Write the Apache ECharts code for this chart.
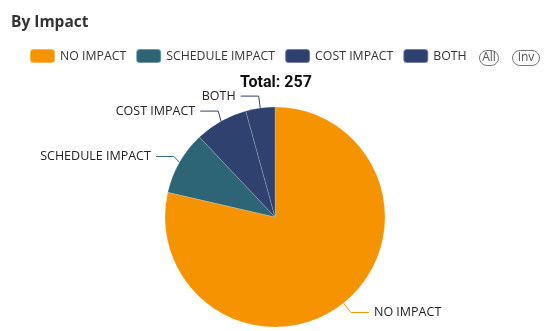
<!DOCTYPE html>
<html>
<head>
<meta charset="utf-8">
<script src="https://cdn.jsdelivr.net/npm/echarts@6/dist/echarts.min.js"></script>
<style>
  html, body { margin: 0; padding: 0; background: #ffffff; }
  #chart { width: 546px; height: 331px; }
</style>
</head>
<body>
<div id="chart"></div>
<script>
// Impact categories and their counts
const categories = ['NO IMPACT', 'SCHEDULE IMPACT', 'COST IMPACT', 'BOTH'];
const counts = [202, 24, 20, 11];
const colors = ['#F59300', '#2D6577', '#2F416E', '#2F416E'];

const total = counts.reduce((a, b) => a + b, 0);
const font = '"Open Sans", "Noto Sans", sans-serif';

const chart = echarts.init(document.getElementById('chart'), null, { renderer: 'canvas' });

chart.setOption({
  animation: false,
  color: colors,
  title: [
    {
      text: 'By Impact',
      left: 6, top: 10,
      textStyle: { fontFamily: font, fontSize: 15.5, fontWeight: 'bold', color: '#333333' }
    },
    {
      text: 'Total: ' + total,
      left: 235, top: 70,
      textStyle: { fontFamily: 'Roboto, sans-serif', fontSize: 16, fontWeight: 'bold', color: '#111111' }
    }
  ],
  legend: {
    data: categories,
    left: 24, top: 43,
    itemWidth: 25, itemHeight: 14,
    itemGap: 9,
    icon: 'roundRect',
    textStyle: { fontFamily: font, fontSize: 12.3, color: '#333333' }
  },
  // "All" / "Inv" toggle pills beside the legend
  graphic: [
    {
      type: 'group', left: 479, top: 50,
      children: [
        { type: 'rect', shape: { x: 0, y: 0, width: 19, height: 15, r: 7.5 },
          style: { fill: '#fff', stroke: '#777', lineWidth: 1 } },
        { type: 'text', x: 9.5, y: 7.5,
          style: { text: 'All', fill: '#555', font: '12px ' + font, align: 'center', verticalAlign: 'middle' } },
        { type: 'rect', shape: { x: 33, y: 0, width: 27, height: 15, r: 7.5 },
          style: { fill: '#fff', stroke: '#777', lineWidth: 1 } },
        { type: 'text', x: 46.5, y: 7.5,
          style: { text: 'Inv', fill: '#555', font: '12px ' + font, align: 'center', verticalAlign: 'middle' } }
      ]
    }
  ],
  series: [
    {
      type: 'pie',
      center: [275, 217],
      radius: 110,
      startAngle: 90,
      clockwise: true,
      itemStyle: { borderColor: 'rgba(255,255,255,0.35)', borderWidth: 0.5 },
      label: {
        show: true,
        fontFamily: font,
        fontSize: 12.5,
        color: '#222222'
      },
      labelLine: { length: 12, length2: 18, lineStyle: { width: 1 } },
      data: categories.map((name, i) => ({ name, value: counts[i] }))
    }
  ]
});
</script>
</body>
</html>
